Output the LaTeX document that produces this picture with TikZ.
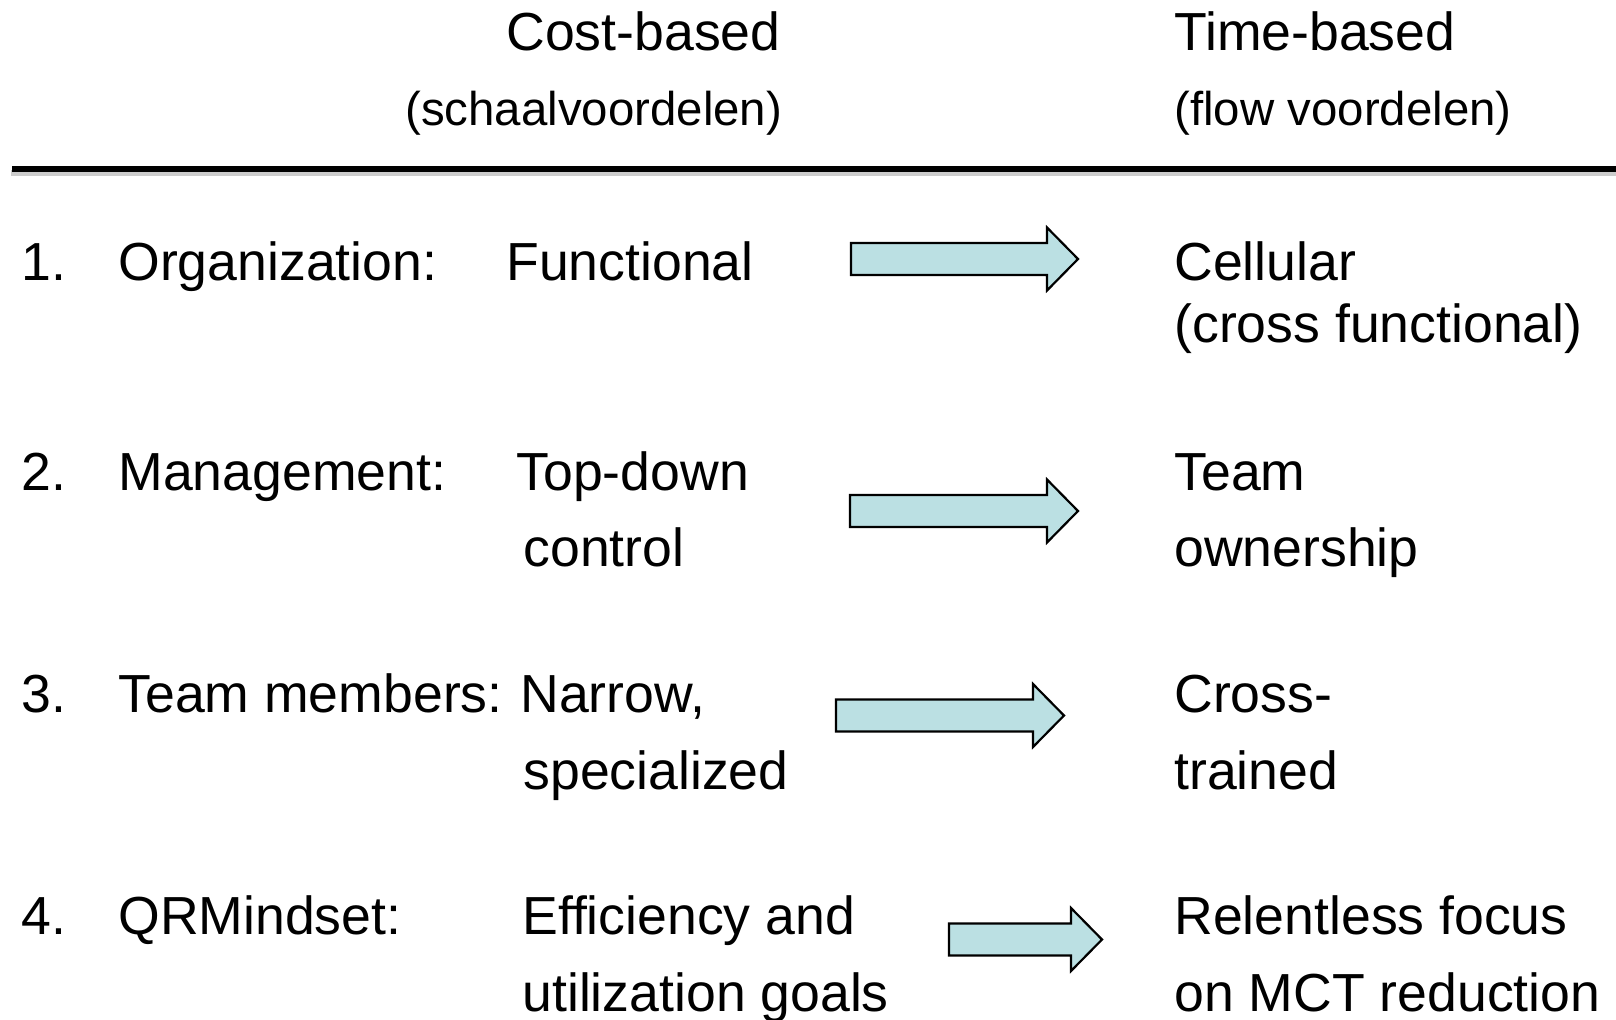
\documentclass[tikz,border=0pt]{standalone}
\usepackage{fontspec}
\setmainfont{Liberation Sans}
\usetikzlibrary{positioning}

\definecolor{arrowblue}{HTML}{BBE0E3}

\begin{document}
\begin{tikzpicture}[
      x=0.5pt, y=-0.5pt,
      txt/.style={anchor=base west,inner sep=0pt,font=\fontsize{26.8}{30}\selectfont},
      sub/.style={anchor=base west,inner sep=0pt,font=\fontsize{23.7}{27}\selectfont},
      pics/blockarrow/.style={code={
        \draw[line width=1.1pt,fill=arrowblue,line join=miter]
          (0,-16) -- (#1-31,-16) -- (#1-31,-31.5) -- (#1,0)
          -- (#1-31,31.5) -- (#1-31,16) -- (0,16) -- cycle;}}
    ]
    \useasboundingbox (0,0) rectangle (1616,1019);

    % column heads
    \node[txt] (costhd) at (506,50) {Cost-based};
    \node[sub] (costsub) at (405,125) {(schaalvoordelen)};
    \node[txt] (timehd) at (1174,50) {Time-based};
    \node[sub] (timesub) at (1174,125) {(flow voordelen)};

    % rule with shadow
    \coordinate (rulel) at (12,169);
    \coordinate (ruler) at (1616,169);
    \draw[line width=3pt,black!20] ([shift={(-1,4)}]rulel) -- ([shift={(0,4)}]ruler);
    \draw[line width=2.75pt] (rulel) -- (ruler);

    % 1
    \node[txt] (n1) at (21,280) {1.};
    \node[txt] (org) at (118,280) {Organization:};
    \node[txt] (func) at (506,280) {Functional};
    \node[txt] (cell) at (1174,280) {Cellular};
    \node[txt] (cellb) at (1174,342) {(cross functional)};
    \pic at (851,259) {blockarrow=227};

    % 2
    \node[txt] (n2) at (21,490) {2.};
    \node[txt] (mgmt) at (118,490) {Management:};
    \node[txt] (topdown) at (516,490) {Top-down};
    \node[txt] (topdownb) at (523,566) {control};
    \node[txt] (team) at (1174,490) {Team};
    \node[txt] (teamb) at (1174,566) {ownership};
    \pic at (850,511) {blockarrow=228};

    % 3
    \node[txt] (n3) at (21,712) {3.};
    \node[txt] (members) at (118,712) {Team members:};
    \node[txt] (narrow) at (520,712) {Narrow,};
    \node[txt] (narrowb) at (523,789) {specialized};
    \node[txt] (cross) at (1174,712) {Cross-};
    \node[txt] (crossb) at (1174,789) {trained};
    \pic at (836,715.5) {blockarrow=228};

    % 4
    \node[txt] (n4) at (21,934) {4.};
    \node[txt] (mindset) at (118,934) {QRMindset:};
    \node[txt] (effic) at (522,934) {Efficiency and};
    \node[txt] (efficb) at (522,1011) {utilization goals};
    \node[txt] (focus) at (1174,934) {Relentless focus};
    \node[txt] (focusb) at (1174,1011) {on MCT reduction};
    \pic at (949,939.5) {blockarrow=153};
  \end{tikzpicture}
\end{document}
